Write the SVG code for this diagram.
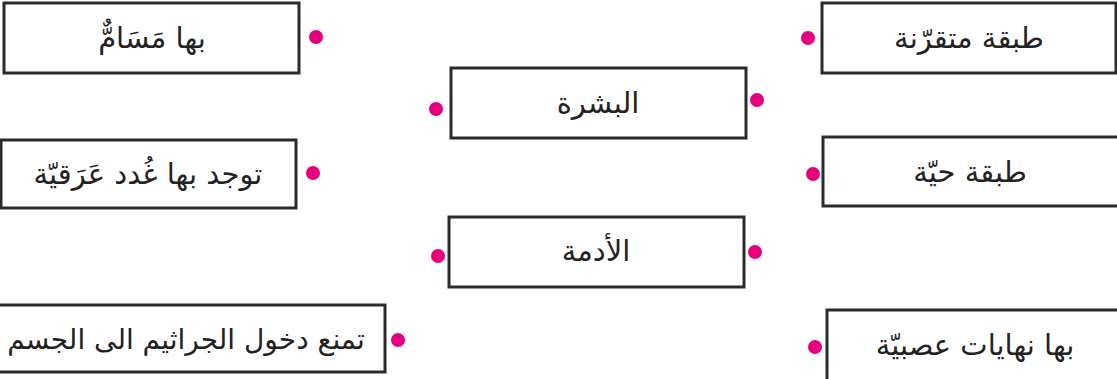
<svg xmlns="http://www.w3.org/2000/svg" width="1117" height="379" viewBox="0 0 1117 379">
<style>
.box{fill:#fff;stroke:#2b2b2b;stroke-width:3}
.dot{fill:#e6007e}
.t{font-family:"DejaVu Sans",sans-serif;font-size:29px;fill:#222;text-anchor:middle;direction:rtl}
</style>
<rect width="1117" height="379" fill="#fff"/>
<g id="n1"><rect class="box" x="4" y="3" width="295" height="70"/><text class="t" x="152" y="48">بها مَسَامٌّ</text><circle class="dot" cx="316" cy="37" r="7"/></g>
<g id="n2"><rect class="box" x="822" y="3" width="294" height="70"/><text class="t" x="969" y="48">طبقة متقرّنة</text><circle class="dot" cx="808" cy="38" r="7"/></g>
<g id="n3"><rect class="box" x="451" y="68" width="295" height="70"/><text class="t" x="598" y="113">البشرة</text><circle class="dot" cx="436" cy="109" r="7"/><circle class="dot" cx="757" cy="100" r="7"/></g>
<g id="n4"><rect class="box" x="1" y="140" width="295" height="68"/><text class="t" x="148" y="184">توجد بها غُدد عَرَقيّة</text><circle class="dot" cx="313" cy="173" r="7"/></g>
<g id="n5"><rect class="box" x="823" y="137" width="296" height="69"/><text class="t" x="970" y="182">طبقة حيّة</text><circle class="dot" cx="813" cy="174" r="7"/></g>
<g id="n6"><rect class="box" x="449" y="217" width="295" height="70"/><text class="t" x="596" y="261">الأدمة</text><circle class="dot" cx="438" cy="256" r="7"/><circle class="dot" cx="755" cy="252" r="7"/></g>
<g id="n7"><rect class="box" x="-10" y="305" width="395" height="67"/><text class="t" x="186" y="349" style="font-size:28px">تمنع دخول الجراثيم الى الجسم</text><circle class="dot" cx="398" cy="340" r="7"/></g>
<g id="n8"><rect class="box" x="827" y="310" width="300" height="80"/><text class="t" x="975" y="355">بها نهايات عصبيّة</text><circle class="dot" cx="815" cy="347" r="7"/></g>
<g id="connectors"></g>
</svg>
